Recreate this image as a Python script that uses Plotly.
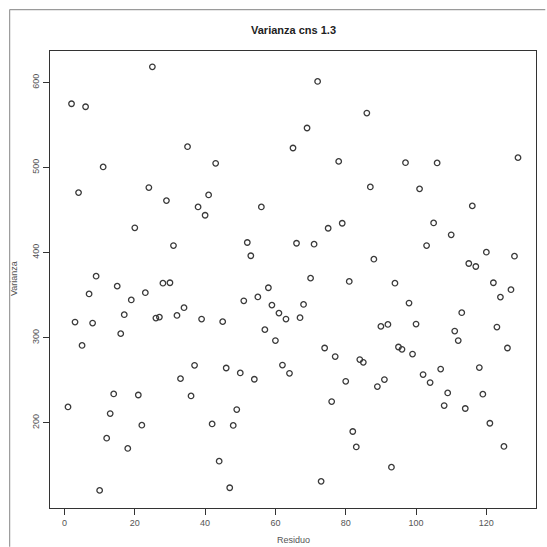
import plotly.graph_objects as go

# Data (index 1..129)
residuo = list(range(1, 130))
varianza = [
    218.8, 575.0, 318.5, 470.6, 291.0, 571.5, 351.5, 317.3, 372.4, 120.7,
    500.8, 182.0, 211.0, 234.0, 360.7, 304.9, 327.2, 170.0, 344.5, 429.2,
    232.8, 197.3, 353.0, 476.5, 618.4, 323.2, 324.3, 364.2, 461.2, 364.7,
    408.4, 326.3, 252.0, 335.4, 524.6, 231.7, 267.7, 453.8, 322.0, 444.0,
    467.9, 198.8, 505.0, 155.0, 319.0, 264.5, 123.8, 197.0, 215.7, 258.7,
    343.5, 412.0, 396.4, 251.3, 348.0, 453.8, 309.6, 358.8, 338.4, 296.7,
    329.0, 268.0, 322.0, 258.3, 523.0, 411.1, 323.6, 339.2, 546.5, 370.1,
    410.0, 601.2, 131.3, 288.0, 428.7, 225.1, 277.9, 507.3, 434.6, 248.9,
    366.2, 189.9, 171.8, 274.4, 271.2, 564.1, 477.3, 392.4, 242.7, 313.4,
    250.9, 315.7, 148.0, 364.2, 289.2, 286.5, 505.8, 340.8, 280.9, 316.1,
    475.0, 256.8, 408.4, 247.4, 435.0, 505.5, 263.3, 220.4, 235.2, 421.0,
    307.9, 296.7, 329.5, 216.9, 387.3, 455.0, 383.8, 265.0, 233.7, 400.6,
    199.6, 364.7, 312.6, 347.8, 172.3, 288.0, 356.5, 395.9, 511.7,
]
x_ticks = [0, 20, 40, 60, 80, 100, 120]
y_ticks = [200, 300, 400, 500, 600]

W = H = 547
L, R, T, B = 50, 537.7, 51, 508.3   # plot box in pixels

def px(x):
    return (x - L) / (R - L)

def py(y):
    return (B - y) / (B - T)

fig = go.Figure()
fig.add_trace(go.Scatter(
    x=residuo, y=varianza, mode="markers",
    marker=dict(symbol="circle-open", size=5.5, color="#3a3a3a", line=dict(width=1.3, color="#3a3a3a")),
    showlegend=False, hoverinfo="skip",
))

axis_common = dict(
    showgrid=False, zeroline=False, showline=True, mirror=True,
    linecolor="#333333", linewidth=1.4, ticks="outside", ticklen=6,
    tickwidth=1.2, tickcolor="#333333",
    tickfont=dict(family="Liberation Sans, Arial, sans-serif", size=9, color="#555555"),
)

fig.update_layout(
    width=W, height=H,
    margin=dict(l=L, r=W - R, t=T, b=H - B, pad=0),
    paper_bgcolor="white", plot_bgcolor="white",
    xaxis=dict(range=[-4.12, 134.12], tickvals=x_ticks, **axis_common),
    yaxis=dict(range=[100.0, 637.0], tickvals=y_ticks, tickangle=-90, **axis_common),
    annotations=[
        dict(text="<b>Varianza cns 1.3</b>", x=px(294), y=py(30), xref="paper", yref="paper",
             showarrow=False, xanchor="center", yanchor="middle",
             font=dict(family="Liberation Sans, Arial, sans-serif", size=11, color="#222222")),
        dict(text="Residuo", x=px(294), y=py(540.5), xref="paper", yref="paper",
             showarrow=False, xanchor="center", yanchor="middle",
             font=dict(family="Liberation Sans, Arial, sans-serif", size=9, color="#555555")),
        dict(text="Varianza", x=px(14), y=py(279), xref="paper", yref="paper",
             showarrow=False, xanchor="center", yanchor="middle", textangle=-90,
             font=dict(family="Liberation Sans, Arial, sans-serif", size=9, color="#555555")),
    ],
    shapes=[
        dict(type="line", xref="paper", yref="paper", x0=px(9.5), x1=px(547), y0=py(9.5), y1=py(9.5),
             line=dict(color="#9a9a9a", width=1.2)),
        dict(type="line", xref="paper", yref="paper", x0=px(9.5), x1=px(9.5), y0=py(9.5), y1=py(547),
             line=dict(color="#9a9a9a", width=1.2)),
    ],
)

fig.write_html("out.html")
